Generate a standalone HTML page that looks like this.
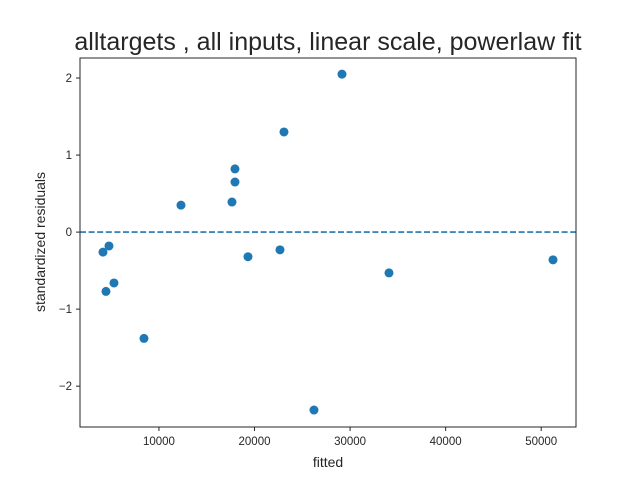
<!DOCTYPE html>
<html><head><meta charset="utf-8"><style>
body{margin:0;background:#fff}
svg text{font-family:"Liberation Sans","DejaVu Sans",sans-serif;fill:#262626}
</style></head><body>
<svg id="c" width="640" height="480">
<text x="328" y="50" font-size="25" text-anchor="middle">alltargets , all inputs, linear scale, powerlaw fit</text>
<text x="328" y="467" font-size="14" text-anchor="middle">fitted</text>
<text transform="translate(45,242) rotate(-90)" font-size="14" text-anchor="middle">standardized residuals</text>
</svg>
<script>
const xs=[4144,4772,4458,5295,8434,12306,17643,17956,17956,19317,22665,23083,29153,26223,34071,51233];
const ys=[-0.26,-0.18,-0.77,-0.66,-1.38,0.35,0.39,0.82,0.65,-0.32,-0.23,1.30,2.05,-2.31,-0.53,-0.36];
const xTicks=[10000,20000,30000,40000,50000];
const yTicks=[-2,-1,0,1,2];
const L=80,R=576,T=58,B=427,x0=1740,x1=53640,y0=-2.53,y1=2.26;
const X=v=>L+(v-x0)/(x1-x0)*(R-L);
const Y=v=>B-(v-y0)/(y1-y0)*(B-T);
const svg=document.getElementById('c');const NS='http://www.w3.org/2000/svg';
function mk(t,a){const e=document.createElementNS(NS,t);for(const k in a)e.setAttribute(k,a[k]);svg.appendChild(e);return e;}
xTicks.forEach(v=>{
const l=mk('line',{x1:X(v),x2:X(v),y1:B,y2:B+4,stroke:'#262626'});


const t=mk('text',{x:X(v),y:B+18,'font-size':11.5,'text-anchor':'middle'});t.textContent=v;


});
yTicks.forEach(v=>{
const l=mk('line',{x1:L-4,x2:L,y1:Y(v),y2:Y(v),stroke:'#262626'});


const t=mk('text',{x:L-8,y:Y(v)+4,'font-size':11.5,'text-anchor':'end'});t.textContent=v<0?'\u2212'+(-v):v;


});
const z=mk('line',{x1:L,x2:R,y1:Y(0),y2:Y(0),stroke:'#1f77b4','stroke-width':1.6,'stroke-dasharray':'6,2.6'});


xs.forEach((v,i)=>{
const c=mk('circle',{cx:X(v),cy:Y(ys[i]),r:4.5,fill:'#1f77b4'});


});
const f=mk('rect',{x:L,y:T,width:R-L,height:B-T,fill:'none',stroke:'#262626','stroke-width':1});


</script>
</body></html>
